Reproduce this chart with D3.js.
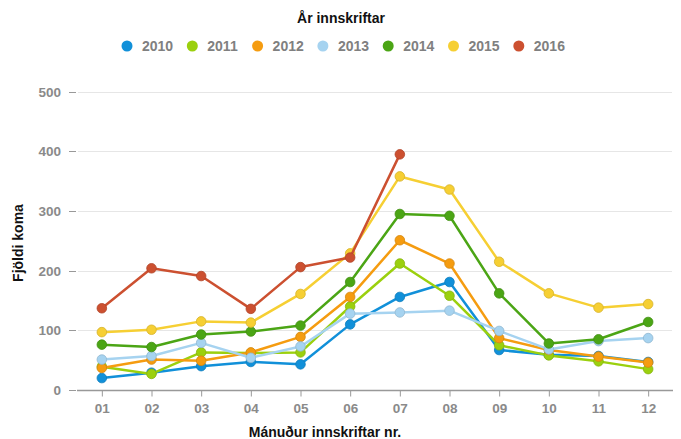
<!DOCTYPE html>
<html>
<head>
<meta charset="utf-8">
<script src="https://cdn.jsdelivr.net/npm/d3@7"></script>
<style>
body { margin: 0; background: #fff; }
svg { font-family: "Liberation Sans", Arial, sans-serif; }
</style>
</head>
<body>
<div class="chart"></div>
<script>
var months = ["01","02","03","04","05","06","07","08","09","10","11","12"]
var years = ["2010","2011","2012","2013","2014","2015","2016"]
var colors = ["#1190d9","#9bd00e","#f59c10","#a6d3f0","#4ba515","#f6cf33","#cc5030"]
var yTicks = [0,100,200,300,400,500]

var v2010 = [20, 29, 40, 47, 43, 110, 156, 181, 67, 59, 57, 47]
var v2011 = [39, 27, 63, 62, 63, 140, 212, 158, 75, 58, 48, 35]
var v2012 = [37, 51, 49, 63, 89, 156, 251, 212, 87, 67, 56, 46]
var v2013 = [51, 57, 79, 54, 73, 128, 130, 133, 99, 68, 82, 87]
var v2014 = [76, 72, 93, 98, 108, 181, 295, 292, 162, 78, 85, 114]
var v2015 = [97, 101, 115, 113, 161, 229, 358, 336, 215, 162, 138, 144]
var v2016 = [137, 204, 191, 136, 206, 222, 395]
var series = [v2010, v2011, v2012, v2013, v2014, v2015, v2016]

var width = 681, height = 439

var svg = d3.select(".chart").append("svg").attr("width", width).attr("height", height)

var x = d3.scalePoint().domain(months).range([77, 673]).padding(0.5)
var y = d3.scaleLinear().domain([0, 500]).range([390, 91.7])

// gridlines
svg.selectAll("line.grid").data(yTicks.slice(1)).enter().append("line")
    .attr("class","grid")
    .attr("x1", 78).attr("x2", 672)
    .attr("y1", function(d){ return Math.round(y(d)) + 0.5 })
    .attr("y2", function(d){ return Math.round(y(d)) + 0.5 })
    .attr("stroke", "#e6e6e6").attr("stroke-width", 1)

// y tick dashes + labels
svg.selectAll("line.ytick").data(yTicks).enter().append("line")
    .attr("x1", 69).attr("x2", 76)
    .attr("y1", function(d){ return Math.round(y(d)) + 0.5 })
    .attr("y2", function(d){ return Math.round(y(d)) + 0.5 })
    .attr("stroke", "#999")
svg.selectAll("text.ylab").data(yTicks).enter().append("text")
    .attr("x", 61).attr("y", function(d){ return y(d) + 5 })
    .attr("text-anchor", "end").attr("font-size", "13.5px").attr("font-weight", "bold")
    .attr("fill", "#8a8a8a").text(function(d){ return d })

// x axis
var xAxis = d3.axisBottom(x).tickSize(6).tickPadding(7)
var gx = svg.append("g").attr("transform", "translate(0,390.5)").call(xAxis)
gx.select(".domain").attr("d", "M77,0H673").attr("stroke", "#999").attr("stroke-width", 1.5)
gx.selectAll(".tick line").attr("stroke", "#999")
gx.selectAll(".tick text").attr("font-size", "13.5px").attr("font-weight", "bold")
    .attr("fill", "#8a8a8a").attr("font-family", "Liberation Sans, Arial, sans-serif")

// axis titles
svg.append("text").attr("x", 325).attr("y", 437).attr("text-anchor", "middle")
    .attr("font-size", "14px").attr("font-weight", "bold").attr("fill", "#111")
    .text("Mánuður innskriftar nr.")
svg.append("text").attr("transform", "translate(23,243) rotate(-90)").attr("text-anchor", "middle")
    .attr("font-size", "14px").attr("font-weight", "bold").attr("fill", "#111")
    .text("Fjöldi koma")

// legend
svg.append("text").attr("x", 341).attr("y", 23).attr("text-anchor", "middle")
    .attr("font-size", "14px").attr("font-weight", "bold").attr("fill", "#111")
    .text("År innskriftar")
var leg = svg.selectAll("g.leg").data(years).enter().append("g")
    .attr("transform", function(d, i){ return "translate(" + (127 + i * 65.3) + ",46)" })
leg.append("circle").attr("r", 5.5).attr("fill", function(d, i){ return colors[i] })
leg.append("text").attr("x", 15).attr("y", 5).attr("font-size", "14px").attr("font-weight", "bold")
    .attr("fill", "#808080").text(function(d){ return d })

// lines
var line = d3.line().x(function(d, i){ return x(months[i]) }).y(function(d){ return y(d) })
series.forEach(function(s, k){
    var g = svg.append("g")
    g.append("path").attr("d", line(s)).attr("fill", "none")
        .attr("stroke", colors[k]).attr("stroke-width", 2.5).attr("stroke-linejoin", "round")
    g.selectAll("circle").data(s).enter().append("circle")
        .attr("cx", function(d, i){ return x(months[i]) })
        .attr("cy", function(d){ return y(d) })
        .attr("r", 4.8)
        .attr("fill", colors[k])
        .attr("stroke", d3.color(colors[k]).darker(0.4)).attr("stroke-width", 0.8)
})
</script>
</body>
</html>
